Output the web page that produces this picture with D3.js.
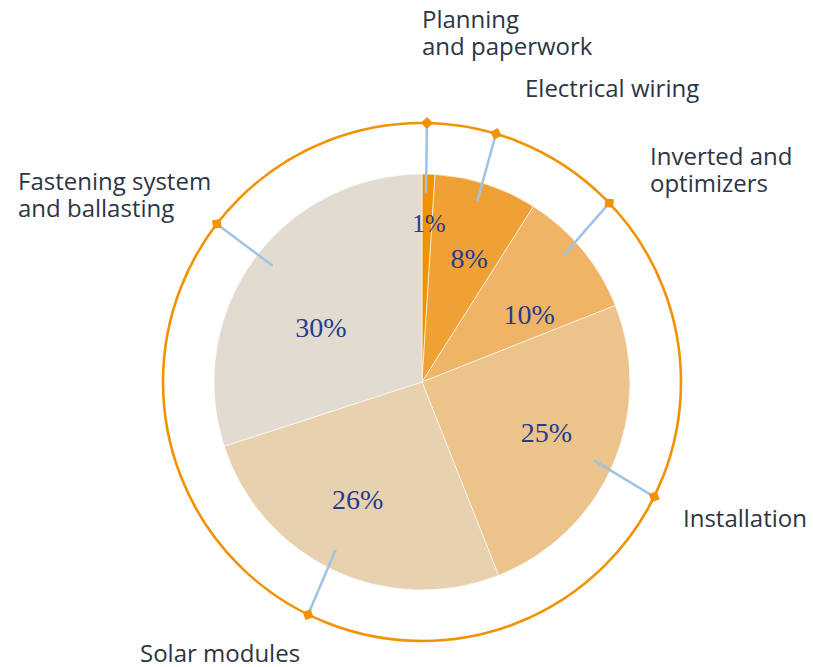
<!DOCTYPE html>
<html>
<head>
<meta charset="utf-8">
<script src="https://cdn.jsdelivr.net/npm/d3@7"></script>
<style>
  body { margin: 0; background: #fff; }
  svg { display: block; }
</style>
</head>
<body>
<svg id="chart" width="813" height="667"></svg>
<script>
// chart values
const categories = ['Planning\nand paperwork', 'Electrical wiring', 'Inverted and\noptimizers', 'Installation', 'Solar modules', 'Fastening system\nand ballasting'];
const shares = [1, 8, 10, 25, 26, 30];
const sliceColors = ['#f39200', '#f0a136', '#efb465', '#ebc38b', '#e8d1af', '#e2dbcf'];

// layout: where the category text sits (left x, first baseline y)
const labelSpots = [[422, 28], [525, 97], [650, 165], [683, 527], [140, 662], [18, 190]];
// layout: small nudges of the % labels and the leader angles (degrees), as in the original
const pctNudge = [[2, -2], [7, 0], [7, 15], [5, -1], [-9, 0], [4, 22]];
const leaderInTurn = [-0.6, -1, -2.2, 1.1, 2, 1.9];
const leaderOutTurn = [-0.7, -1.4, -4.1, 2.9, 0.9, 1.6];

const cx = 422, cy = 382;
const radius = 208, ringRadius = 259, leaderStart = 189;
const deg = Math.PI / 180;

const svg = d3.select('#chart');
const g = svg.append('g').attr('transform', `translate(${cx},${cy})`);

const pie = d3.pie().sort(null).value(d => d);
const arcs = pie(shares);
const arc = d3.arc().innerRadius(0).outerRadius(radius);

g.selectAll('.slice')
  .data(arcs)
  .enter()
  .append('path')
  .attr('class', 'slice')
  .attr('d', arc)
  .attr('fill', (d, i) => sliceColors[i])
  .attr('stroke', '#fff')
  .attr('stroke-width', 0.6);

// outer ring
g.append('circle')
  .attr('r', ringRadius)
  .attr('fill', 'none')
  .attr('stroke', '#f39200')
  .attr('stroke-width', 2.6);

const mid = d => (d.startAngle + d.endAngle) / 2;
const polar = (a, r) => [Math.sin(a) * r, -Math.cos(a) * r];
const inPt = (d, i) => polar(mid(d) + leaderInTurn[i] * deg, leaderStart);
const outPt = (d, i) => polar(mid(d) + leaderOutTurn[i] * deg, ringRadius);

// leader lines
g.selectAll('.leader')
  .data(arcs)
  .enter()
  .append('line')
  .attr('class', 'leader')
  .attr('x1', (d, i) => inPt(d, i)[0])
  .attr('y1', (d, i) => inPt(d, i)[1])
  .attr('x2', (d, i) => outPt(d, i)[0])
  .attr('y2', (d, i) => outPt(d, i)[1])
  .attr('stroke', '#9dc3e6')
  .attr('stroke-width', 2.5);

// diamonds on the ring
g.selectAll('.marker')
  .data(arcs)
  .enter()
  .append('path')
  .attr('class', 'marker')
  .attr('d', d3.symbol().type(d3.symbolSquare).size(72))
  .attr('transform', (d, i) => {
    const p = outPt(d, i);
    return `translate(${p[0]},${p[1]}) rotate(${mid(d) / deg + 45})`;
  })
  .attr('fill', '#f39200');

// percentage labels
const pctPos = (d, i) => {
  const p = polar(mid(d), d.data < 5 ? 157 : 130);
  return [p[0] + pctNudge[i][0], p[1] + pctNudge[i][1]];
};
g.selectAll('.pct')
  .data(arcs)
  .enter()
  .append('text')
  .attr('class', 'pct')
  .attr('x', (d, i) => pctPos(d, i)[0])
  .attr('y', (d, i) => pctPos(d, i)[1])
  .attr('text-anchor', 'middle')
  .attr('dominant-baseline', 'central')
  .attr('font-family', '"Liberation Serif", "DejaVu Serif", serif')
  .attr('font-size', d => d.data < 5 ? 25 : 28)
  .attr('fill', '#263b8c')
  .text(d => d.data + '%');

// category labels
const cat = svg.selectAll('.cat')
  .data(categories)
  .enter()
  .append('text')
  .attr('class', 'cat')
  .attr('x', (d, i) => labelSpots[i][0])
  .attr('y', (d, i) => labelSpots[i][1])
  .attr('font-family', '"Open Sans", "Noto Sans", sans-serif')
  .attr('font-size', 24)
  .attr('fill', '#2d3544');

cat.each(function(d, i) {
  const t = d3.select(this);
  d.split('\n').forEach((line, k) => {
    t.append('tspan')
      .attr('x', labelSpots[i][0])
      .attr('dy', k === 0 ? 0 : 27)
      .text(line);
  });
});
</script>
</body>
</html>
